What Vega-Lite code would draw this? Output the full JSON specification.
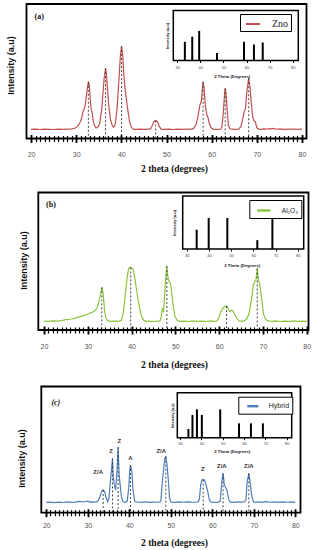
{
  "$schema": "https://vega.github.io/schema/vega-lite/v6.json",
  "width": 316,
  "height": 550,
  "padding": 0,
  "autosize": {"type": "none"},
  "background": "white",
  "config": {"view": {"stroke": null}, "axis": {"grid": false, "zindex": 1}},
  "datasets": {
    "a_curve": [
      {"x":20,"y":6.8},{"x":21,"y":6.9},{"x":22,"y":6.7},{"x":23,"y":6.9},{"x":24,"y":6.8},{"x":25,"y":6.7},{"x":26,"y":6.9},{"x":27,"y":6.8},{"x":28,"y":7.0},{"x":29,"y":7.2},{"x":29.8,"y":7.8},{"x":30.3,"y":9},{"x":30.8,"y":11.5},{"x":31.2,"y":15},{"x":31.5,"y":20},{"x":31.7,"y":21.5},{"x":31.9,"y":23},{"x":32.2,"y":30},{"x":32.5,"y":38},{"x":32.7,"y":42.2},{"x":32.9,"y":40},{"x":33.1,"y":30},{"x":33.3,"y":22},{"x":33.5,"y":20},{"x":33.7,"y":15},{"x":34.0,"y":10},{"x":34.4,"y":7.8},{"x":34.8,"y":8.5},{"x":35.2,"y":11},{"x":35.6,"y":20},{"x":35.9,"y":32},{"x":36.2,"y":45},{"x":36.5,"y":52.2},{"x":36.7,"y":48},{"x":36.9,"y":38},{"x":37.2,"y":25},{"x":37.6,"y":14},{"x":38.0,"y":9.5},{"x":38.3,"y":8.3},{"x":38.6,"y":10},{"x":39.0,"y":20},{"x":39.4,"y":40},{"x":39.8,"y":62},{"x":40.05,"y":68.8},{"x":40.3,"y":62},{"x":40.6,"y":45},{"x":41.0,"y":32},{"x":41.4,"y":22},{"x":41.8,"y":13},{"x":42.2,"y":8.5},{"x":42.6,"y":7},{"x":43,"y":6.8},{"x":44,"y":6.9},{"x":45,"y":6.8},{"x":46,"y":6.9},{"x":46.5,"y":7.3},{"x":46.9,"y":10},{"x":47.2,"y":12.5},{"x":47.6,"y":13.4},{"x":48.0,"y":12.5},{"x":48.4,"y":9},{"x":48.8,"y":7},{"x":49.5,"y":6.8},{"x":50.5,"y":6.9},{"x":51.5,"y":6.7},{"x":52.5,"y":6.9},{"x":53.5,"y":6.8},{"x":54.5,"y":6.9},{"x":55.5,"y":7},{"x":56,"y":7.5},{"x":56.5,"y":10},{"x":57.0,"y":17},{"x":57.4,"y":25},{"x":57.7,"y":27.5},{"x":57.9,"y":35},{"x":58.1,"y":42.2},{"x":58.3,"y":38},{"x":58.6,"y":25},{"x":58.9,"y":18},{"x":59.2,"y":15.5},{"x":59.5,"y":11},{"x":59.9,"y":8},{"x":60.3,"y":7},{"x":61,"y":6.8},{"x":62,"y":6.9},{"x":62.3,"y":9},{"x":62.6,"y":20},{"x":62.85,"y":33},{"x":63.0,"y":37.3},{"x":63.2,"y":33},{"x":63.45,"y":20},{"x":63.7,"y":10},{"x":64,"y":7.2},{"x":65,"y":6.8},{"x":66,"y":7},{"x":66.5,"y":9},{"x":66.9,"y":15},{"x":67.2,"y":20},{"x":67.5,"y":22},{"x":67.8,"y":35},{"x":68.2,"y":44.8},{"x":68.5,"y":38},{"x":68.8,"y":25},{"x":69.1,"y":16},{"x":69.4,"y":13},{"x":69.7,"y":12},{"x":70.0,"y":8},{"x":70.5,"y":7},{"x":71,"y":6.8},{"x":71.5,"y":7.1},{"x":72,"y":6.9},{"x":72.5,"y":7.4},{"x":73,"y":7.0},{"x":73.5,"y":7.5},{"x":74,"y":7.1},{"x":74.5,"y":6.9},{"x":75,"y":7.2},{"x":76,"y":6.8},{"x":77,"y":7.0},{"x":78,"y":6.9},{"x":79,"y":6.8},{"x":80,"y":6.9}
    ],
    "a_peaks": [
      {"x":32.7,"y":42.2},{"x":36.5,"y":52.2},{"x":40.05,"y":68.8},{"x":47.6,"y":13.4},{"x":58.1,"y":42.2},{"x":63.0,"y":37.3},{"x":68.2,"y":44.8}
    ],
    "a_ref": [
      {"x":33.3,"h":37.4},{"x":36.5,"h":47.6},{"x":39.5,"h":59.2},{"x":47.2,"h":15},{"x":58.9,"h":37.4},{"x":63.2,"h":32},{"x":67.0,"h":36}
    ],
    "b_curve": [
      {"x":20,"y":6.5},{"x":21,"y":6.3},{"x":22,"y":6.6},{"x":23,"y":6.4},{"x":24,"y":6.8},{"x":25,"y":7.5},{"x":26,"y":7.8},{"x":27,"y":8.5},{"x":28,"y":9.5},{"x":29,"y":10.5},{"x":30,"y":11.6},{"x":31,"y":12.8},{"x":31.6,"y":14},{"x":32.1,"y":16},{"x":32.5,"y":20},{"x":32.9,"y":26},{"x":33.2,"y":31},{"x":33.5,"y":27},{"x":33.8,"y":15},{"x":34.1,"y":9},{"x":34.5,"y":6.8},{"x":35,"y":6.3},{"x":36,"y":6.5},{"x":37,"y":6.3},{"x":37.7,"y":7},{"x":38.1,"y":12},{"x":38.5,"y":24},{"x":38.9,"y":36},{"x":39.3,"y":44.5},{"x":39.6,"y":45.6},{"x":40.0,"y":45},{"x":40.4,"y":44},{"x":40.8,"y":36.4},{"x":41.1,"y":30},{"x":41.5,"y":22},{"x":41.9,"y":15},{"x":42.3,"y":9.7},{"x":42.8,"y":7},{"x":43.5,"y":6.3},{"x":44,"y":6.5},{"x":45,"y":6.2},{"x":46,"y":6.5},{"x":46.5,"y":6.6},{"x":46.8,"y":10},{"x":47.0,"y":15.8},{"x":47.3,"y":13},{"x":47.6,"y":28},{"x":47.85,"y":40},{"x":48.05,"y":46.5},{"x":48.3,"y":38},{"x":48.6,"y":35},{"x":48.9,"y":34},{"x":49.2,"y":26},{"x":49.5,"y":18},{"x":49.9,"y":10},{"x":50.4,"y":7},{"x":51,"y":6.3},{"x":52,"y":6.5},{"x":53,"y":6.2},{"x":54,"y":6.6},{"x":55,"y":6.3},{"x":56,"y":6.5},{"x":57,"y":6.2},{"x":58,"y":6.6},{"x":59,"y":6.3},{"x":59.5,"y":6.5},{"x":60.0,"y":9.5},{"x":60.4,"y":13.5},{"x":60.9,"y":16},{"x":61.3,"y":17},{"x":61.7,"y":17.4},{"x":62.1,"y":15},{"x":62.5,"y":13.3},{"x":62.9,"y":14.5},{"x":63.3,"y":13},{"x":63.7,"y":10.5},{"x":64.1,"y":8},{"x":64.6,"y":6.6},{"x":65,"y":6.3},{"x":65.8,"y":6.8},{"x":66.4,"y":8.5},{"x":66.8,"y":12},{"x":67.1,"y":17},{"x":67.5,"y":25},{"x":67.8,"y":33},{"x":68.1,"y":35},{"x":68.4,"y":36.4},{"x":68.7,"y":44.8},{"x":69.0,"y":36},{"x":69.2,"y":34},{"x":69.5,"y":28},{"x":69.8,"y":20},{"x":70.1,"y":12},{"x":70.5,"y":8.5},{"x":70.9,"y":7},{"x":71.5,"y":6.5},{"x":72,"y":6.3},{"x":73,"y":6.6},{"x":74,"y":6.2},{"x":75,"y":6.5},{"x":76,"y":6.3},{"x":77,"y":6.6},{"x":78,"y":6.3},{"x":79,"y":6.5},{"x":80,"y":6.3}
    ],
    "b_peaks": [
      {"x":33.2,"y":31},{"x":39.8,"y":45.5},{"x":48.05,"y":46.5},{"x":61.7,"y":17.4},{"x":68.7,"y":44.8}
    ],
    "b_ref": [
      {"x":34.5,"h":36.4},{"x":39.9,"h":58.6},{"x":48.3,"h":58.6},{"x":61.8,"h":16.7},{"x":68.6,"h":58.6}
    ],
    "c_curve": [
      {"x":20,"y":8.2},{"x":21,"y":8.4},{"x":22,"y":8.0},{"x":23,"y":8.3},{"x":24,"y":8.1},{"x":25,"y":8.5},{"x":26,"y":8.2},{"x":27,"y":8.4},{"x":28,"y":8.9},{"x":29,"y":8.5},{"x":30,"y":9.2},{"x":30.5,"y":8.4},{"x":31,"y":8.6},{"x":31.5,"y":8.4},{"x":32,"y":8.6},{"x":32.5,"y":9.5},{"x":32.9,"y":12.5},{"x":33.3,"y":16.5},{"x":33.7,"y":18},{"x":34.1,"y":16.5},{"x":34.4,"y":12},{"x":34.8,"y":8.8},{"x":35.1,"y":11.4},{"x":35.4,"y":23.3},{"x":35.7,"y":33.8},{"x":35.95,"y":43},{"x":36.15,"y":28},{"x":36.4,"y":22},{"x":36.7,"y":18},{"x":37.0,"y":31},{"x":37.3,"y":52},{"x":37.55,"y":30},{"x":37.8,"y":22},{"x":38.1,"y":12.7},{"x":38.5,"y":8.5},{"x":39.0,"y":8.2},{"x":39.5,"y":9},{"x":39.9,"y":20.6},{"x":40.1,"y":33.8},{"x":40.3,"y":37.8},{"x":40.6,"y":33},{"x":40.9,"y":18},{"x":41.3,"y":9},{"x":42,"y":8.3},{"x":43,"y":8.2},{"x":44,"y":8.5},{"x":45,"y":8.2},{"x":46,"y":8.4},{"x":47,"y":8.3},{"x":47.6,"y":9},{"x":48.0,"y":25.9},{"x":48.3,"y":35.2},{"x":48.55,"y":43},{"x":48.8,"y":44.4},{"x":49.1,"y":37.8},{"x":49.4,"y":26},{"x":49.7,"y":11.4},{"x":50.1,"y":8.4},{"x":51,"y":8.2},{"x":52,"y":8.5},{"x":53,"y":8.3},{"x":54,"y":8.6},{"x":55,"y":8.4},{"x":56,"y":8.3},{"x":56.6,"y":8.6},{"x":56.9,"y":11},{"x":57.2,"y":22},{"x":57.6,"y":26.4},{"x":58.1,"y":26},{"x":58.5,"y":22},{"x":58.9,"y":16.6},{"x":59.3,"y":10},{"x":59.7,"y":8.3},{"x":60.5,"y":8.2},{"x":61.5,"y":8.4},{"x":61.9,"y":9},{"x":62.3,"y":24.6},{"x":62.6,"y":31.2},{"x":62.9,"y":22},{"x":63.5,"y":18},{"x":64.0,"y":10},{"x":64.4,"y":8.3},{"x":65,"y":8.2},{"x":66,"y":8.6},{"x":67,"y":8.4},{"x":67.7,"y":8.6},{"x":68.1,"y":10},{"x":68.4,"y":24.6},{"x":68.8,"y":31.2},{"x":69.2,"y":22},{"x":69.5,"y":14},{"x":69.9,"y":8.5},{"x":70.5,"y":8.2},{"x":71,"y":8.6},{"x":72,"y":8.2},{"x":73,"y":8.7},{"x":74,"y":8.3},{"x":75,"y":8.6},{"x":76,"y":8.2},{"x":77,"y":8.5},{"x":78,"y":8.3},{"x":79,"y":8.6},{"x":80,"y":8.2}
    ],
    "c_peaks": [
      {"x":33.7,"y":18},{"x":35.95,"y":43},{"x":37.3,"y":52},{"x":40.3,"y":37.8},{"x":48.8,"y":44.4},{"x":57.8,"y":26.2},{"x":62.6,"y":31.2},{"x":68.8,"y":31.2}
    ],
    "c_ref": [
      {"x":33.9,"h":19.3},{"x":35.8,"h":50.4},{"x":37.9,"h":63},{"x":40.2,"h":50.4},{"x":48.8,"h":63},{"x":57.6,"h":31.9},{"x":63.2,"h":31.9},{"x":68.8,"h":31.9}
    ],
    "c_labels": [
      {"x":32.5,"y":32.6,"label":"Z/A"},{"x":35.6,"y":48.9,"label":"Z"},{"x":37.6,"y":56.8,"label":"Z"},{"x":40.3,"y":43,"label":"A"},{"x":47.7,"y":48.9,"label":"Z/A"},{"x":57.7,"y":34.4,"label":"Z"},{"x":62.3,"y":36.8,"label":"Z/A"},{"x":68.8,"y":36.8,"label":"Z/A"}
    ]
  },
  "layer": [
    {
      "data": {"values": [{}]},
      "mark": {"type": "rect", "fillOpacity": 0, "stroke": "black", "strokeWidth": 1.8},
      "encoding": {
        "x": {"datum": 19, "type": "quantitative",
          "scale": {"domain": [19, 81], "range": [26.5, 306.5], "nice": false, "zero": false},
          "axis": {"orient": "bottom", "offset": -414.5, "domain": false, "labels": false, "title": null,
            "values": [20,21,22,23,24,25,26,27,28,29,30,31,32,33,34,35,36,37,38,39,40,41,42,43,44,45,46,47,48,49,50,51,52,53,54,55,56,57,58,59,60,61,62,63,64,65,66,67,68,69,70,71,72,73,74,75,76,77,78,79,80],
            "ticks": true, "tickSize": 6, "tickWidth": 1.2, "tickColor": "black"}},
        "x2": {"datum": 81},
        "y": {"datum": 0, "type": "quantitative", "scale": {"domain": [0, 100], "range": [138.5, 4], "nice": false}, "axis": null},
        "y2": {"datum": 100}
      }
    },
    {
      "layer": [
        {
          "data": {"name": "a_curve"},
          "mark": {"type": "line", "strokeWidth": 1.2},
          "encoding": {
            "x": {"field": "x", "type": "quantitative",
              "scale": {"domain": [19, 81], "range": [26.5, 306.5], "nice": false, "zero": false},
              "axis": {"orient": "bottom", "offset": -415.5, "domain": false,
                "values": [20,30,40,50,60,70,80],
                "ticks": true, "tickSize": 8, "tickWidth": 1.8, "tickColor": "black",
                "labelOverlap": false, "labelFlush": false,
                "labelPadding": 8, "labelFont": "Liberation Sans", "labelFontSize": 7, "labelColor": "#555",
                "title": "2 theta (degrees)", "titleFont": "Liberation Serif", "titleFontWeight": "bold", "titleFontSize": 9.5, "titleColor": "#111",
                "titleX": 174, "titleY": 34, "titleBaseline": "middle"}},
            "y": {"field": "y", "type": "quantitative",
              "scale": {"domain": [0, 100], "range": [138.5, 4], "nice": false},
              "axis": {"orient": "left", "offset": -26.5, "domain": false, "ticks": false, "labels": false,
                "title": "Intensity (a.u)", "titleFont": "Liberation Sans", "titleFontWeight": "bold", "titleFontSize": 9, "titleColor": "#111",
                "titleX": -16, "titleY": 65, "titleBaseline": "middle"}},
            "color": {"datum": "Zno", "scale": {"range": ["#c0504d"]},
              "legend": {"orient": "none", "legendX": 240, "legendY": 14, "title": null, "strokeColor": "black", "fillColor": "white", "padding": 2,
                "symbolType": "stroke", "symbolSize": 196, "symbolStrokeWidth": 2, "symbolOffset": 3, "labelOffset": 11,
                "labelFont": "Liberation Sans Narrow", "labelFontSize": 10, "labelColor": "#222"}}
          }
        },
        {
          "data": {"name": "a_peaks"},
          "mark": {"type": "rule", "strokeDash": [2, 2], "color": "#333", "strokeWidth": 0.9},
          "encoding": {"x": {"field": "x", "type": "quantitative"}, "y": {"field": "y", "type": "quantitative"}, "y2": {"datum": 0}}
        },
        {
          "data": {"values": [{}]},
          "mark": {"type": "text", "text": "(a)", "font": "Liberation Serif", "fontWeight": "bold", "fontSize": 8, "color": "#111"},
          "encoding": {"x": {"datum": 21.8, "type": "quantitative"}, "y": {"datum": 90.6, "type": "quantitative"}}
        }
      ]
    },
    {
      "layer": [
        {
          "data": {"values": [{}]},
          "mark": {"type": "rect", "fill": "white", "stroke": "black", "strokeWidth": 1.5},
          "encoding": {
            "x": {"datum": 28.3, "type": "quantitative",
              "scale": {"domain": [28.3, 82.4], "range": [173.3, 298.3], "nice": false, "zero": false},
              "axis": {"orient": "bottom", "offset": -489.5, "domain": false, "values": [30,40,50,60,70,80],
                "ticks": true, "tickSize": 2, "tickColor": "black", "labelPadding": 2.5, "labelFont": "Liberation Sans", "labelFontSize": 4, "labelColor": "#444",
                "labelFlush": false, "labelOverlap": false,
                "title": "2 Theta (Degrees)", "titleFont": "Liberation Sans", "titleFontWeight": "bold", "titleFontSize": 4.3, "titleColor": "#222",
                "titleX": 231.7, "titleY": 16.2, "titleBaseline": "middle"}},
            "x2": {"datum": 82.4},
            "y": {"datum": 0, "type": "quantitative",
              "scale": {"domain": [0, 100], "range": [60.5, 10.5], "nice": false},
              "axis": {"orient": "left", "offset": -173.3, "domain": false, "ticks": false, "labels": false,
                "title": "Intensity (a.u)", "titleFont": "Liberation Sans", "titleFontWeight": "bold", "titleFontSize": 4, "titleColor": "#222",
                "titleX": -6, "titleBaseline": "middle"}},
            "y2": {"datum": 100}
          }
        },
        {
          "data": {"name": "a_ref"},
          "mark": {"type": "rule", "color": "black", "strokeWidth": 2},
          "encoding": {"x": {"field": "x", "type": "quantitative"}, "y": {"field": "h", "type": "quantitative"}, "y2": {"datum": 0}}
        }
      ]
    },
    {
      "data": {"values": [{}]},
      "mark": {"type": "rect", "fillOpacity": 0, "stroke": "black", "strokeWidth": 1.8},
      "encoding": {
        "x": {"datum": 18.7, "type": "quantitative",
          "scale": {"domain": [18.7, 80.4], "range": [38.3, 308.5], "nice": false, "zero": false},
          "axis": {"orient": "bottom", "offset": -223, "domain": false, "labels": false, "title": null,
            "values": [20,21,22,23,24,25,26,27,28,29,30,31,32,33,34,35,36,37,38,39,40,41,42,43,44,45,46,47,48,49,50,51,52,53,54,55,56,57,58,59,60,61,62,63,64,65,66,67,68,69,70,71,72,73,74,75,76,77,78,79,80],
            "ticks": true, "tickSize": 6, "tickWidth": 1.2, "tickColor": "black"}},
        "x2": {"datum": 80.4},
        "y": {"datum": 0, "type": "quantitative", "scale": {"domain": [0, 100], "range": [330, 192.5], "nice": false}, "axis": null},
        "y2": {"datum": 100}
      }
    },
    {
      "layer": [
        {
          "data": {"name": "b_curve"},
          "mark": {"type": "line", "strokeWidth": 1.2},
          "encoding": {
            "x": {"field": "x", "type": "quantitative",
              "scale": {"domain": [18.7, 80.4], "range": [38.3, 308.5], "nice": false, "zero": false},
              "axis": {"orient": "bottom", "offset": -224, "domain": false,
                "values": [20,30,40,50,60,70,80],
                "ticks": true, "tickSize": 8, "tickWidth": 1.8, "tickColor": "black",
                "labelOverlap": false, "labelFlush": false,
                "labelPadding": 8, "labelFont": "Liberation Sans", "labelFontSize": 7, "labelColor": "#555",
                "title": "2 theta (degrees)", "titleFont": "Liberation Serif", "titleFontWeight": "bold", "titleFontSize": 9.5, "titleColor": "#111",
                "titleX": 174, "titleY": 38.5, "titleBaseline": "middle"}},
            "y": {"field": "y", "type": "quantitative",
              "scale": {"domain": [0, 100], "range": [330, 192.5], "nice": false},
              "axis": {"orient": "left", "offset": -38.3, "domain": false, "ticks": false, "labels": false,
                "title": "Intensity (a.u)", "titleFont": "Liberation Sans", "titleFontWeight": "bold", "titleFontSize": 9, "titleColor": "#111",
                "titleX": -15, "titleY": 260, "titleBaseline": "middle"}},
            "color": {"datum": "Al₂O₃", "scale": {"range": ["#8cc43f"]},
              "legend": {"orient": "none", "legendX": 249.3, "legendY": 200, "title": null, "strokeColor": "black", "fillColor": "white", "padding": 2.5,
                "symbolType": "stroke", "symbolSize": 169, "symbolStrokeWidth": 2.5, "symbolOffset": 4, "labelOffset": 10,
                "labelFont": "Liberation Sans", "labelFontSize": 6.5, "labelColor": "#222"}}
          }
        },
        {
          "data": {"name": "b_peaks"},
          "mark": {"type": "rule", "strokeDash": [2, 2], "color": "#333", "strokeWidth": 0.9},
          "encoding": {"x": {"field": "x", "type": "quantitative"}, "y": {"field": "y", "type": "quantitative"}, "y2": {"datum": 0}}
        },
        {
          "data": {"values": [{}]},
          "mark": {"type": "text", "text": "(b)", "font": "Liberation Serif", "fontWeight": "bold", "fontSize": 8, "color": "#111"},
          "encoding": {"x": {"datum": 21.6, "type": "quantitative"}, "y": {"datum": 90.9, "type": "quantitative"}}
        }
      ]
    },
    {
      "layer": [
        {
          "data": {"values": [{}]},
          "mark": {"type": "rect", "fill": "white", "stroke": "black", "strokeWidth": 1.5},
          "encoding": {
            "x": {"datum": 28.2, "type": "quantitative",
              "scale": {"domain": [28.2, 82.7], "range": [182.7, 303.7], "nice": false, "zero": false},
              "axis": {"orient": "bottom", "offset": -301, "domain": false, "values": [30,40,50,60,70,80],
                "ticks": true, "tickSize": 2, "tickColor": "black", "labelPadding": 2.5, "labelFont": "Liberation Sans", "labelFontSize": 4, "labelColor": "#444",
                "labelFlush": false, "labelOverlap": false,
                "title": "2 Theta (Degrees)", "titleFont": "Liberation Sans", "titleFontWeight": "bold", "titleFontSize": 4.3, "titleColor": "#222",
                "titleX": 241.7, "titleY": 16, "titleBaseline": "middle"}},
            "x2": {"datum": 82.7},
            "y": {"datum": 0, "type": "quantitative",
              "scale": {"domain": [0, 100], "range": [249, 196], "nice": false},
              "axis": {"orient": "left", "offset": -182.7, "domain": false, "ticks": false, "labels": false,
                "title": "Intensity (a.u)", "titleFont": "Liberation Sans", "titleFontWeight": "bold", "titleFontSize": 4, "titleColor": "#222",
                "titleX": -8, "titleBaseline": "middle"}},
            "y2": {"datum": 100}
          }
        },
        {
          "data": {"name": "b_ref"},
          "mark": {"type": "rule", "color": "black", "strokeWidth": 2},
          "encoding": {"x": {"field": "x", "type": "quantitative"}, "y": {"field": "h", "type": "quantitative"}, "y2": {"datum": 0}}
        }
      ]
    },
    {
      "data": {"values": [{}]},
      "mark": {"type": "rect", "fillOpacity": 0, "stroke": "black", "strokeWidth": 1.8},
      "encoding": {
        "x": {"datum": 18.8, "type": "quantitative",
          "scale": {"domain": [18.8, 81.25], "range": [41.3, 300.5], "nice": false, "zero": false},
          "axis": {"orient": "bottom", "offset": -40.3, "domain": false, "labels": false, "title": null,
            "values": [20,21,22,23,24,25,26,27,28,29,30,31,32,33,34,35,36,37,38,39,40,41,42,43,44,45,46,47,48,49,50,51,52,53,54,55,56,57,58,59,60,61,62,63,64,65,66,67,68,69,70,71,72,73,74,75,76,77,78,79,80],
            "ticks": true, "tickSize": 6, "tickWidth": 1.2, "tickColor": "black"}},
        "x2": {"datum": 81.25},
        "y": {"datum": 0, "type": "quantitative", "scale": {"domain": [0, 100], "range": [512.7, 386.5], "nice": false}, "axis": null},
        "y2": {"datum": 100}
      }
    },
    {
      "layer": [
        {
          "data": {"name": "c_curve"},
          "mark": {"type": "line", "strokeWidth": 1.2},
          "encoding": {
            "x": {"field": "x", "type": "quantitative",
              "scale": {"domain": [18.8, 81.25], "range": [41.3, 300.5], "nice": false, "zero": false},
              "axis": {"orient": "bottom", "offset": -41.3, "domain": false,
                "values": [20,30,40,50,60,70,80],
                "ticks": true, "tickSize": 8, "tickWidth": 1.8, "tickColor": "black",
                "labelOverlap": false, "labelFlush": false,
                "labelPadding": 5, "labelFont": "Liberation Sans", "labelFontSize": 7, "labelColor": "#555",
                "title": "2 theta (degrees)", "titleFont": "Liberation Serif", "titleFontWeight": "bold", "titleFontSize": 9.5, "titleColor": "#111",
                "titleX": 174, "titleY": 34, "titleBaseline": "middle"}},
            "y": {"field": "y", "type": "quantitative",
              "scale": {"domain": [0, 100], "range": [512.7, 386.5], "nice": false},
              "axis": {"orient": "left", "offset": -41.3, "domain": false, "ticks": false, "labels": false,
                "title": "Intensity (a.u)", "titleFont": "Liberation Sans", "titleFontWeight": "bold", "titleFontSize": 9, "titleColor": "#111",
                "titleX": -19.6, "titleY": 458, "titleBaseline": "middle"}},
            "color": {"datum": "Hybrid", "scale": {"range": ["#4f7fbd"]},
              "legend": {"orient": "none", "legendX": 238.3, "legendY": 396.7, "title": null, "strokeColor": "black", "fillColor": "white", "padding": 2.5,
                "symbolType": "stroke", "symbolSize": 121, "symbolStrokeWidth": 2.5, "symbolOffset": 5, "labelOffset": 9,
                "labelFont": "Liberation Sans", "labelFontSize": 7, "labelColor": "#222"}}
          }
        },
        {
          "data": {"name": "c_peaks"},
          "mark": {"type": "rule", "strokeDash": [2, 2], "color": "#333", "strokeWidth": 0.9},
          "encoding": {"x": {"field": "x", "type": "quantitative"}, "y": {"field": "y", "type": "quantitative"}, "y2": {"datum": 0}}
        },
        {
          "data": {"name": "c_labels"},
          "mark": {"type": "text", "font": "Liberation Sans", "fontWeight": "bold", "fontSize": 6, "color": "#333"},
          "encoding": {"x": {"field": "x", "type": "quantitative"}, "y": {"field": "y", "type": "quantitative"}, "text": {"field": "label"}}
        },
        {
          "data": {"values": [{}]},
          "mark": {"type": "text", "text": "(c)", "font": "Liberation Serif", "fontWeight": "bold", "fontStyle": "italic", "fontSize": 8, "color": "#111"},
          "encoding": {"x": {"datum": 22.3, "type": "quantitative"}, "y": {"datum": 86.7, "type": "quantitative"}}
        }
      ]
    },
    {
      "layer": [
        {
          "data": {"values": [{}]},
          "mark": {"type": "rect", "fill": "white", "stroke": "black", "strokeWidth": 1.5},
          "encoding": {
            "x": {"datum": 28.7, "type": "quantitative",
              "scale": {"domain": [28.7, 82.3], "range": [177.3, 291.7], "nice": false, "zero": false},
              "axis": {"orient": "bottom", "offset": -112.3, "domain": false, "values": [30,40,50,60,70,80],
                "ticks": true, "tickSize": 2, "tickColor": "black", "labelPadding": 1.5, "labelFont": "Liberation Sans", "labelFontSize": 4, "labelColor": "#444",
                "labelFlush": false, "labelOverlap": false,
                "title": "2 Theta (Degrees)", "titleFont": "Liberation Sans", "titleFontWeight": "bold", "titleFontSize": 4.3, "titleColor": "#222",
                "titleX": 231.7, "titleY": 14, "titleBaseline": "middle"}},
            "x2": {"datum": 82.3},
            "y": {"datum": 0, "type": "quantitative",
              "scale": {"domain": [0, 100], "range": [437.7, 392.7], "nice": false},
              "axis": {"orient": "left", "offset": -177.3, "domain": false, "ticks": false, "labels": false,
                "title": "Intensity (a.u)", "titleFont": "Liberation Sans", "titleFontWeight": "bold", "titleFontSize": 3.8, "titleColor": "#222",
                "titleX": -5, "titleBaseline": "middle"}},
            "y2": {"datum": 100}
          }
        },
        {
          "data": {"name": "c_ref"},
          "mark": {"type": "rule", "color": "black", "strokeWidth": 2},
          "encoding": {"x": {"field": "x", "type": "quantitative"}, "y": {"field": "h", "type": "quantitative"}, "y2": {"datum": 0}}
        }
      ]
    }
  ],
  "resolve": {
    "scale": {"x": "independent", "y": "independent", "color": "independent"},
    "axis": {"x": "independent", "y": "independent"},
    "legend": {"color": "independent"}
  }
}
